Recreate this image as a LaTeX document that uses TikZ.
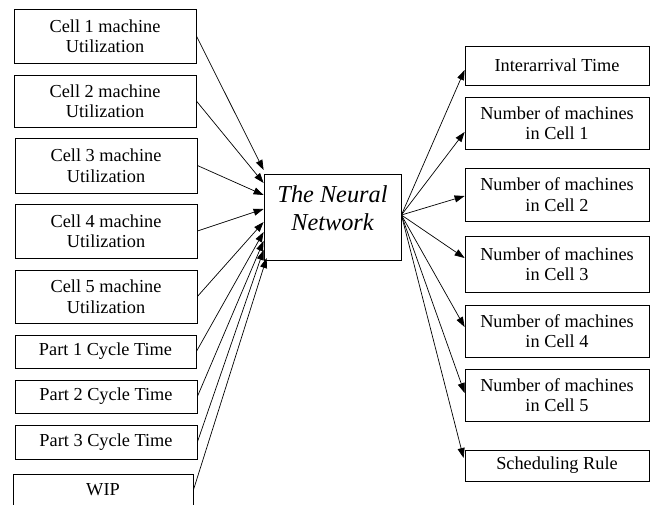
\documentclass[tikz,border=0pt]{standalone}
\usepackage{fontspec}
\setmainfont{Liberation Serif}
\usetikzlibrary{arrows.meta,calc}
\begin{document}
\begin{tikzpicture}[x=1pt,y=-1pt,
  box/.style={draw,line width=0.8pt,align=center,inner sep=0pt,font=\fontsize{18.3}{20.5}\selectfont},
  conn/.style={line width=0.7pt,-{Triangle[length=10pt,width=7pt]}}]
\useasboundingbox (0,0) rectangle (653,504);
% left inputs
\node[box,minimum width=182pt,minimum height=54pt] (c1) at (105,36) {Cell 1 machine\\Utilization};
\node[box,minimum width=182pt,minimum height=52pt] (c2) at (105,101) {Cell 2 machine\\Utilization};
\node[box,minimum width=182pt,minimum height=55pt] (c3) at (106,165.5) {Cell 3 machine\\Utilization};
\node[box,minimum width=182pt,minimum height=54pt] (c4) at (106,231) {Cell 4 machine\\Utilization};
\node[box,minimum width=182pt,minimum height=53pt] (c5) at (106,296.5) {Cell 5 machine\\Utilization};
\node[box,minimum width=181pt,minimum height=33pt] (p1) at (105.5,351.5) {Part 1 Cycle Time};
\node[box,minimum width=182pt,minimum height=33pt] (p2) at (106,396.5) {Part 2 Cycle Time};
\node[box,minimum width=182pt,minimum height=34pt] (p3) at (106,442) {Part 3 Cycle Time};
\node[box,minimum width=180pt,minimum height=32pt] (wip) at (103,490) {WIP};
% centre
\node[draw,line width=0.8pt,minimum width=137pt,minimum height=86pt,inner sep=0pt] (nn) at (332.5,217) {};
\node[align=center,inner sep=0pt,font=\fontsize{24.3}{28.5}\selectfont\itshape] (nntext) at (332.5,208) {The Neural\\Network};
% right outputs
\node[box,minimum width=184pt,minimum height=39pt] (r0) at (557,65.5) {Interarrival Time};
\node[box,minimum width=184pt,minimum height=52pt] (r1) at (557,123) {Number of machines\\in Cell 1};
\node[box,minimum width=184pt,minimum height=53pt] (r2) at (557,194.5) {Number of machines\\in Cell 2};
\node[box,minimum width=184pt,minimum height=56pt] (r3) at (557,264) {Number of machines\\in Cell 3};
\node[box,minimum width=184pt,minimum height=52pt] (r4) at (557,331) {Number of machines\\in Cell 4};
\node[box,minimum width=184pt,minimum height=52pt] (r5) at (557,395) {Number of machines\\in Cell 5};
\node[box,minimum width=184pt,minimum height=31pt] (r6) at (557,465.5) {Scheduling Rule};
% input connectors
\draw[conn] (c1.east) -- ([yshift=47pt]nn.west);
\draw[conn] (c2.east) -- ([yshift=34pt]nn.west);
\draw[conn] (c3.east) -- ([yshift=22pt]nn.west);
\draw[conn] (c4.east) -- ([yshift=8pt]nn.west);
\draw[conn] (c5.east) -- ([yshift=-5pt]nn.west);
\draw[conn] (p1.east) -- ([yshift=-15pt]nn.west);
\draw[conn] (p2.east) -- ([yshift=-24pt]nn.west);
\draw[conn] (p3.east) -- ([yshift=-33pt]nn.west);
\draw[conn] (wip.east) -- ([xshift=3pt,yshift=-41pt]nn.west);
% output connectors
\draw[conn] ([yshift=2pt]nn.east) -- ([yshift=-4.5pt]r0.west);
\draw[conn] ([yshift=2pt]nn.east) -- ([yshift=-9pt]r1.west);
\draw[conn] ([yshift=2pt]nn.east) -- ([yshift=-1.5pt]r2.west);
\draw[conn] ([yshift=2pt]nn.east) -- ([yshift=6pt]r3.west);
\draw[conn] ([yshift=2pt]nn.east) -- ([yshift=4pt]r4.west);
\draw[conn] ([yshift=2pt]nn.east) -- ([yshift=2pt]r5.west);
\draw[conn] ([yshift=2pt]nn.east) -- ([xshift=-1pt,yshift=7.5pt]r6.west);
\end{tikzpicture}
\end{document}
